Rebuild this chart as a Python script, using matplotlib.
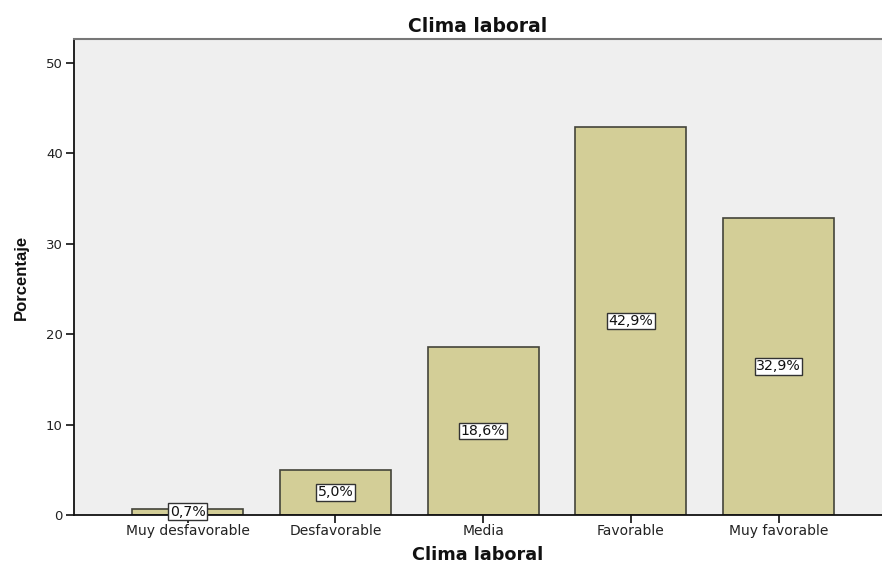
import matplotlib
matplotlib.use("Agg")
import matplotlib.pyplot as plt
import numpy as np

categories = ["Muy desfavorable", "Desfavorable", "Media", "Favorable", "Muy favorable"]
percentages = [0.7, 5.0, 18.6, 42.9, 32.9]
value_labels = ["0,7%", "5,0%", "18,6%", "42,9%", "32,9%"]
y_ticks = [0, 10, 20, 30, 40, 50]

plt.rcParams["font.family"] = ["DejaVu Sans"]

fig = plt.figure(figsize=(8.82, 5.67), dpi=100)
ax = fig.add_axes([74 / 882, 52 / 567, 808 / 882, 476 / 567])
ax.set_facecolor("#efefef")

x = np.arange(len(categories))
ax.bar(x, percentages, width=0.75, color="#d3ce97", edgecolor="#44443a", linewidth=1.2, zorder=2)

for xi, val, lab in zip(x, percentages, value_labels):
    ax.text(xi, val / 2, lab, ha="center", va="center", fontsize=10.2, color="#111111", zorder=3,
            bbox=dict(boxstyle="square,pad=0.1", facecolor="white", edgecolor="#333333", linewidth=1))

ax.set_xlim(-0.77, 4.70)
ax.set_ylim(0, 52.65)
ax.set_xticks(x)
ax.set_xticklabels(categories, fontsize=10, color="#222222")
ax.set_yticks(y_ticks)
ax.set_yticklabels([str(t) for t in y_ticks], fontsize=9.5, color="#222222")
ax.tick_params(axis="both", direction="out", length=6, width=1.3, color="#222222", pad=2)
ax.tick_params(axis="x", pad=0.5)

ax.spines["right"].set_visible(False)
ax.spines["top"].set_color("#777777")
ax.spines["top"].set_linewidth(1.5)
for side in ["left", "bottom"]:
    ax.spines[side].set_linewidth(1.3)
    ax.spines[side].set_color("#111111")

ax.set_title("Clima laboral", fontsize=13.5, fontweight="bold", pad=5, color="#111111")
ax.set_xlabel("Clima laboral", fontsize=12.7, fontweight="bold", color="#111111")
ax.set_ylabel("Porcentaje", fontsize=12, fontweight="bold", color="#111111",
              family=["Liberation Sans", "DejaVu Sans"])
ax.xaxis.label.set_va("center")
ax.yaxis.label.set_va("center")
ax.xaxis.set_label_coords(0.5, (515 - 555) / 476)
ax.yaxis.set_label_coords((21 - 74) / 808, 0.5)

fig.savefig("out.png", dpi=100)
